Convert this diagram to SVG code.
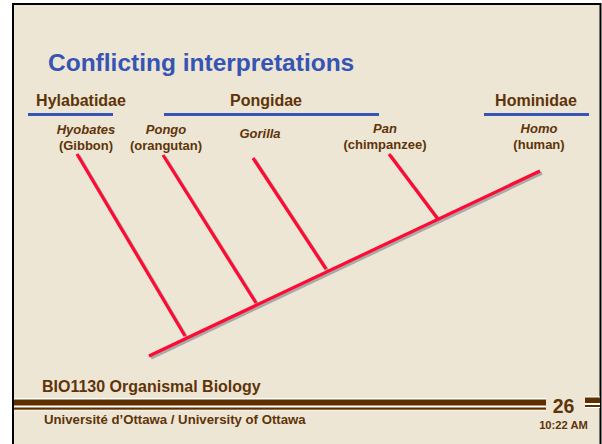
<svg xmlns="http://www.w3.org/2000/svg" width="602" height="444" viewBox="0 0 602 444">
<style>
.bg{fill:#ede6d5}
.title{font-family:"Liberation Sans",Arial,sans-serif;font-weight:bold;font-size:24.5px;fill:#3654b4}
.grp{font-family:"Liberation Sans",Arial,sans-serif;font-weight:bold;font-size:16px;fill:#5e3408;text-anchor:middle}
.sp{font-family:"Liberation Sans",Arial,sans-serif;font-weight:bold;font-size:13px;fill:#5e3408;text-anchor:middle}
.it{font-style:italic}
.foot{font-family:"Liberation Sans",Arial,sans-serif;font-weight:bold;fill:#5e3408}
.uline{stroke:#3654b4;stroke-width:3}
.br{stroke:#ff0a32;stroke-width:3.2;fill:none}
.sh{stroke:#a9a9a9;stroke-width:3.2;fill:none}
</style>
<rect x="0" y="0" width="602" height="444" fill="#ffffff"/>
<rect class="bg" x="13" y="4" width="587" height="440"/>
<path d="M13,444 V4 H600.5 V444" fill="none" stroke="#000" stroke-width="2"/>
<text class="title" x="48" y="70.5">Conflicting interpretations</text>
<g id="hylabatidae"><text class="grp" x="81" y="106">Hylabatidae</text><line class="uline" x1="28" y1="114.5" x2="113" y2="114.5"/></g>
<g id="pongidae"><text class="grp" x="266" y="106">Pongidae</text><line class="uline" x1="164" y1="114.5" x2="379" y2="114.5"/></g>
<g id="hominidae"><text class="grp" x="536" y="106">Hominidae</text><line class="uline" x1="484" y1="114.5" x2="589" y2="114.5"/></g>
<g id="hyobates"><text class="sp it" x="86" y="134">Hyobates</text><text class="sp" x="86" y="150">(Gibbon)</text></g>
<g id="pongo"><text class="sp it" x="166" y="134">Pongo</text><text class="sp" x="166" y="150">(orangutan)</text></g>
<g id="gorilla"><text class="sp it" x="260" y="137.5">Gorilla</text></g>
<g id="pan"><text class="sp it" x="385" y="132.5">Pan</text><text class="sp" x="385" y="148.5">(chimpanzee)</text></g>
<g id="homo"><text class="sp it" x="539" y="132.5">Homo</text><text class="sp" x="539" y="148.5">(human)</text></g>
<g id="connectors">
<g class="sh" transform="translate(2,2)">
<line x1="149" y1="356" x2="540" y2="171"/>
<line x1="77" y1="154" x2="185" y2="336"/>
<line x1="163" y1="155" x2="256" y2="303"/>
<line x1="253" y1="158" x2="326" y2="269"/>
<line x1="389" y1="154" x2="437.5" y2="218.5"/>
</g>
<g class="br">
<line x1="149" y1="356" x2="540" y2="171"/>
<line x1="77" y1="154" x2="185" y2="336"/>
<line x1="163" y1="155" x2="256" y2="303"/>
<line x1="253" y1="158" x2="326" y2="269"/>
<line x1="389" y1="154" x2="437.5" y2="218.5"/>
</g>
</g>
<g id="footer">
<text class="foot" x="42" y="392" font-size="16">BIO1130 Organismal Biology</text>
<rect x="14" y="398" width="532" height="12.5" fill="#ffffff"/>
<rect x="14" y="399.5" width="532" height="6" fill="#5e3000"/>
<rect x="14" y="407.5" width="532" height="2.2" fill="#5e3000"/>
<rect x="585" y="396.5" width="15" height="11.5" fill="#ffffff"/>
<rect x="585" y="397.5" width="15" height="5.5" fill="#5e3000"/>
<rect x="585" y="405" width="15" height="2" fill="#5e3000"/>
<text class="foot" x="44" y="423.5" font-size="13.2">Université d’Ottawa / University of Ottawa</text>
<text class="foot" x="563.5" y="413" font-size="19.5" text-anchor="middle">26</text>
<text class="foot" x="563.5" y="429" font-size="11.2" text-anchor="middle">10:22 AM</text>
</g>
</svg>
